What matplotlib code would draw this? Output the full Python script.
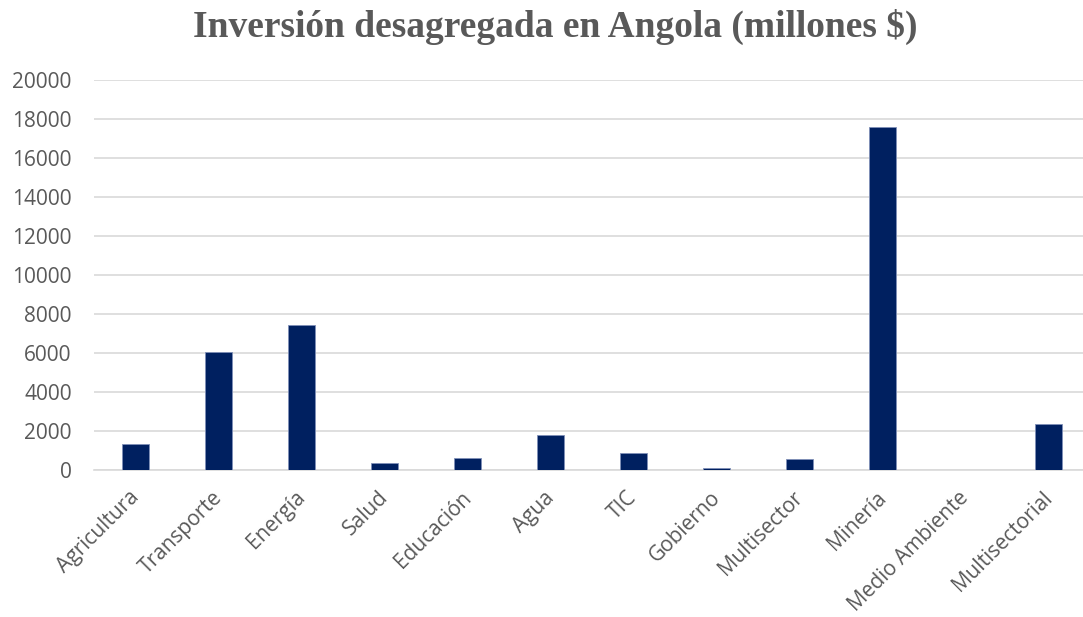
import matplotlib
matplotlib.use("Agg")
import matplotlib.pyplot as plt
import matplotlib.transforms as mtransforms

sectores = ["Agricultura", "Transporte", "Energía", "Salud", "Educación", "Agua",
            "TIC", "Gobierno", "Multisector", "Minería", "Medio Ambiente", "Multisectorial"]
inversion = [1310, 6050, 7436, 350, 620, 1820, 850, 80, 580, 17570, 15, 2340]
yticks = [0, 2000, 4000, 6000, 8000, 10000, 12000, 14000, 16000, 18000, 20000]

gray = "#595959"
bar_color = "#002060"

fig = plt.figure(figsize=(10.83, 6.17), dpi=100)
ax = fig.add_axes([94 / 1083, 1 - 470 / 617, 1 - 94 / 1083, 390 / 617])

x = range(len(sectores))
ax.bar(x, inversion, width=0.318, color=bar_color, edgecolor="#8090b8", linewidth=0.6, zorder=3)

ax.set_xlim(-0.5, len(sectores) - 0.5 - 7 / 83)
ax.set_ylim(0, 20000)
ax.set_yticks(yticks)
ax.set_yticklabels([str(v) for v in yticks], fontfamily="Open Sans", fontsize=15, color=gray)
ax.set_xticks(list(x))
ax.set_xticklabels(sectores, rotation=45, ha="right", rotation_mode="anchor",
                   fontfamily="Open Sans", fontsize=15, color=gray)

ax.grid(axis="y", color="#d9d9d9", linewidth=1.2, zorder=0)
ax.tick_params(axis="y", length=0, pad=16)
ax.tick_params(axis="x", length=0, pad=13)
for side in ["top", "right", "left"]:
    ax.spines[side].set_visible(False)
ax.spines["bottom"].set_color("#d9d9d9")
ax.spines["bottom"].set_linewidth(1.2)

# nudge the rotated category labels so their ends sit just right of each bar
shift = mtransforms.ScaledTranslation(-7 / 100, 1 / 100, fig.dpi_scale_trans)
for lbl in ax.get_xticklabels():
    lbl.set_transform(lbl.get_transform() + shift)

fig.text(0.513, 0.956, "Inversión desagregada en Angola (millones $)", ha="center", va="center",
         fontfamily="Liberation Serif", fontweight="bold", fontsize=27, color=gray)

fig.savefig("out.png", dpi=100)
